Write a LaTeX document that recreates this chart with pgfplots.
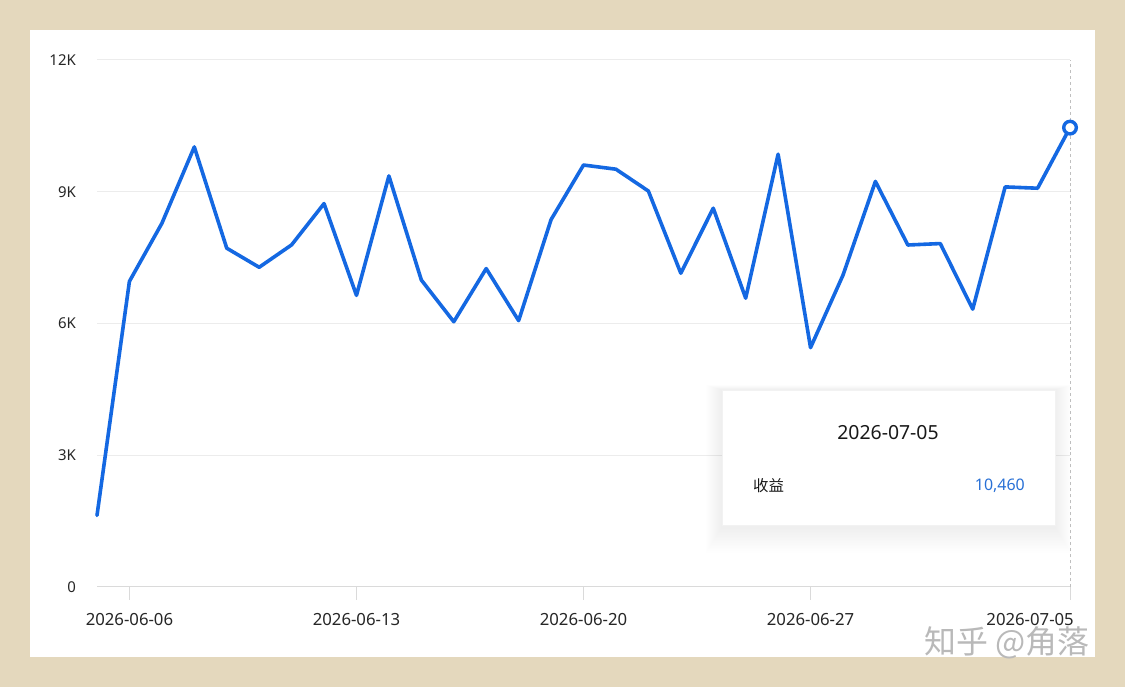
\documentclass[border=0pt]{standalone}
\usepackage{fontspec}
\setmainfont{Noto Sans}
\newfontfamily\cjk{Noto Sans CJK SC}
\usepackage{pgfplots}
\pgfplotsset{compat=1.18}
\definecolor{bg}{RGB}{228,216,189}
\definecolor{linec}{RGB}{20,104,226}
\definecolor{gridc}{RGB}{236,236,236}
\definecolor{axisc}{RGB}{218,218,218}
\definecolor{tipc}{RGB}{40,112,214}
\pgfplotstableread{
d v
0 1630
1 6960
2 8280
3 10020
4 7715
5 7280
6 7790
7 8730
8 6640
9 9360
10 6990
11 6040
12 7250
13 6065
14 8365
15 9608
16 9513
17 9016
18 7145
19 8625
20 6577
21 9855
22 5450
23 7100
24 9235
25 7787
26 7820
27 6326
28 9110
29 9080
30 10460
}\revenue
\begin{document}
\begin{tikzpicture}[x=1bp,y=1bp]
\fill[bg] (0,0) rectangle (1125,687);
\useasboundingbox (0,0) rectangle (1125,687);
\fill[white] (30,30) rectangle (1095,657);
\begin{axis}[
  at={(97bp,100bp)}, anchor=south west,
  scale only axis, width=973bp, height=527bp,
  xmin=0, xmax=30, ymin=0, ymax=12000,
  scaled y ticks=false,
  axis line style={draw=none},
  ytick={0,3000,6000,9000,12000},
  yticklabels={0,3K,6K,9K,12K},
  ymajorgrids, grid style={gridc, line width=1bp},
  ytick style={draw=none},
  yticklabel style={anchor=east, inner sep=0pt, xshift=-8bp, font=\fontsize{15}{17}\selectfont, text=black!85},
  xtick pos=lower, ytick pos=left,
  xtick={1,8,15,22},
  xticklabels={2026-06-06,2026-06-13,2026-06-20,2026-06-27},
  extra x ticks={30}, extra x tick labels={2026-07-05},
  extra x tick style={xticklabel style={anchor=north east, xshift=4bp}, grid=none},
  xticklabel style={anchor=north, inner sep=0pt, yshift=-13bp, font=\fontsize{16.8}{19}\selectfont, text=black!85},
  tick align=outside, major tick length=13bp,
  xtick style={draw=axisc, line width=1bp},
  clip=false,
]
\draw[axisc, line width=1bp] (axis cs:0,0) -- (axis cs:30,0);
\draw[gray!50, dashed, line width=0.8bp] (axis cs:30,0) -- (axis cs:30,12000);
\addplot[linec, line width=3.6bp, line join=round, line cap=round, no marks] table[x=d, y=v] {\revenue};
\addplot[only marks, mark=*, mark size=6.3bp, mark options={fill=white, draw=linec, line width=3.4bp}] coordinates {(30,10460)};
\end{axis}
% tooltip
\foreach \i in {1,...,16}{
  \fill[black, opacity=0.005] (722-\i*1.0, 160-\i*1.6) rectangle (1055+\i*1.0, 297+\i*0.3);
}
\fill[white] (722,162) rectangle (1055,297);
\draw[black!5, line width=0.5bp] (722,162) rectangle (1055,297);
\node[inner sep=0pt, font=\fontsize{19.5}{22}\selectfont, text=black!90] at (888,254) {2026-07-05};
\node[inner sep=0pt, anchor=west, font=\cjk\fontsize{15.5}{18}\selectfont, text=black!90] at (753,201) {收益};
\node[inner sep=0pt, anchor=east, font=\fontsize{16}{18}\selectfont, text=tipc] at (1025,201) {10,460};
% watermark
\node[inner sep=0pt, font=\cjk\fontsize{32}{34}\selectfont, text=gray!55] at (1007,44) {知乎 @角落};
\end{tikzpicture}
\end{document}
